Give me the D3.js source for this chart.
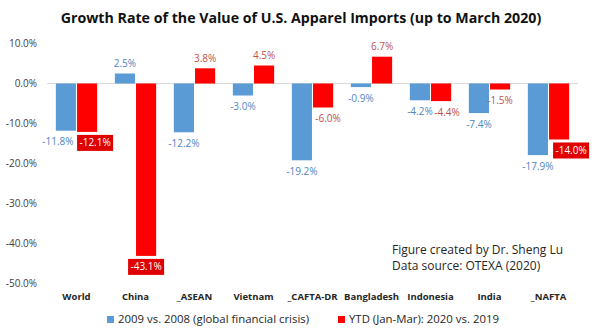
<!DOCTYPE html>
<html>
<head>
<meta charset="utf-8">
<script src="https://cdn.jsdelivr.net/npm/d3@7"></script>
<style>
  body { margin: 0; background: #fff; }
  text { font-family: "Open Sans", "Noto Sans", sans-serif; }
</style>
</head>
<body>
<div class="chart"></div>
<script>
// values
var categories = ["World", "China", "_ASEAN", "Vietnam", "_CAFTA-DR", "Bangladesh", "Indonesia", "India", "_NAFTA"];
var crisis = [-11.8, 2.5, -12.2, -3.0, -19.2, -0.9, -4.2, -7.4, -17.9];
var ytd = [-12.1, -43.1, 3.8, 4.5, -6.0, 6.7, -4.4, -1.5, -14.0];
var yTicks = [10, 0, -10, -20, -30, -40, -50];
var boxed = ["World", "China", "_NAFTA"];
var seriesNames = ["2009 vs. 2008 (global financial crisis)", "YTD (Jan-Mar): 2020 vs. 2019"];

var width = 602, height = 335;
var margin = {top: 43.5, left: 47, right: 24, bottom: 51.5};

var svg = d3.select(".chart").append("svg")
  .attr("width", width)
  .attr("height", height);

svg.append("text")
  .attr("x", 301)
  .attr("y", 23)
  .attr("text-anchor", "middle")
  .attr("font-size", 14.2)
  .attr("font-weight", "bold")
  .attr("fill", "#111")
  .text("Growth Rate of the Value of U.S. Apparel Imports (up to March 2020)");

var x0 = d3.scaleBand()
  .domain(categories)
  .range([margin.left, width - margin.right])
  .paddingInner(0.3)
  .paddingOuter(0.15);

var x1 = d3.scaleBand()
  .domain([0, 1])
  .range([0, x0.bandwidth()])
  .paddingInner(0.05);

var y = d3.scaleLinear()
  .domain([-50, 10])
  .range([height - margin.bottom, margin.top]);

// y axis labels
var yAxis = svg.append("g")
  .attr("transform", "translate(" + (margin.left - 10) + ",0)")
  .call(d3.axisLeft(y).tickValues(yTicks).tickSize(0).tickPadding(0)
    .tickFormat(function(d) { return d.toFixed(1) + "%"; }));
yAxis.select(".domain").remove();
yAxis.selectAll("text")
  .attr("font-size", 10)
  .attr("fill", "#404040")
  .style("font-family", "'Open Sans', sans-serif");

// zero line
svg.append("line")
  .attr("x1", margin.left)
  .attr("x2", width - margin.right)
  .attr("y1", y(0))
  .attr("y2", y(0))
  .attr("stroke", "#d9d9d9")
  .attr("stroke-width", 1);

var rows = categories.map(function(c, i) {
  return {cat: c, vals: [crisis[i], ytd[i]]};
});

var colors = ["#5b9bd5", "#ff0000"];
var labelColors = ["#4f86c0", "#c0504d"];

// nudges used where Excel moved overlapping labels sideways
var labelShift = [
  {"World": -8},
  {"World": 8, "_CAFTA-DR": 5, "Indonesia": 6, "_NAFTA": 12}
];

var groups = svg.selectAll(".group")
  .data(rows)
  .enter().append("g")
  .attr("class", "group")
  .attr("transform", function(d) { return "translate(" + x0(d.cat) + ",0)"; });

groups.each(function(d) {
  var g = d3.select(this);
  d.vals.forEach(function(v, s) {
    g.append("rect")
      .attr("x", x1(s))
      .attr("width", x1.bandwidth())
      .attr("y", y(Math.max(0, v)))
      .attr("height", Math.abs(y(v) - y(0)))
      .attr("fill", colors[s]);

    var cx = x1(s) + x1.bandwidth() / 2 + (labelShift[s][d.cat] || 0);
    var cy = v < 0 ? y(v) + 11 : y(v) - 10;
    var label = v.toFixed(1) + "%";

    if (s == 1 && boxed.indexOf(d.cat) >= 0) {
      g.append("rect")
        .attr("x", cx - 18)
        .attr("y", cy - 8)
        .attr("width", 36)
        .attr("height", 16)
        .attr("fill", "#e00000");
      g.append("text")
        .attr("x", cx)
        .attr("y", cy)
        .attr("dy", "0.35em")
        .attr("text-anchor", "middle")
        .attr("font-size", 10)
        .attr("fill", "#fff")
        .text(label);
    } else {
      g.append("text")
        .attr("x", cx)
        .attr("y", cy)
        .attr("dy", "0.35em")
        .attr("text-anchor", "middle")
        .attr("font-size", 10)
        .attr("fill", labelColors[s])
        .text(label);
    }
  });
});

// category labels
svg.selectAll(".cat")
  .data(categories)
  .enter().append("text")
  .attr("class", "cat")
  .attr("x", function(d) { return x0(d) + x0.bandwidth() / 2; })
  .attr("y", 297)
  .attr("dy", "0.35em")
  .attr("text-anchor", "middle")
  .attr("font-size", 9.5)
  .attr("font-weight", "bold")
  .attr("fill", "#262626")
  .text(function(d) { return d; });

// note
var note = svg.append("text")
  .attr("x", 392)
  .attr("font-size", 12)
  .attr("fill", "#262626");
note.append("tspan").attr("x", 392).attr("y", 254).text("Figure created by Dr. Sheng Lu");
note.append("tspan").attr("x", 392).attr("y", 270).text("Data source: OTEXA (2020)");

// legend
var legendX = [107, 338];
var legend = svg.append("g").attr("class", "legend");
seriesNames.forEach(function(name, i) {
  legend.append("rect")
    .attr("x", legendX[i])
    .attr("y", 316)
    .attr("width", 7)
    .attr("height", 7)
    .attr("fill", colors[i]);
  legend.append("text")
    .attr("x", legendX[i] + 11)
    .attr("y", 319.5)
    .attr("dy", "0.35em")
    .attr("font-size", 11.4)
    .attr("fill", "#262626")
    .text(name);
});
</script>
</body>
</html>
